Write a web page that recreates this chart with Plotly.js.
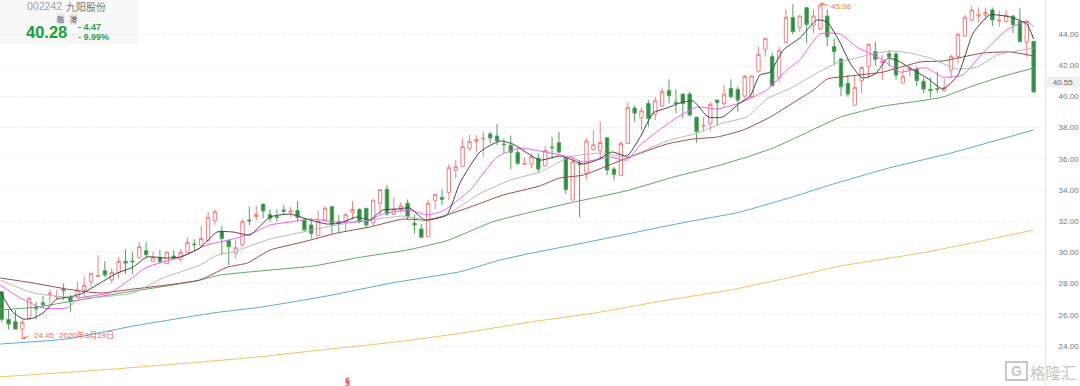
<!DOCTYPE html>
<html><head><meta charset="utf-8">
<script src="https://cdn.plot.ly/plotly-3.0.1.min.js"></script>
<style>html,body{margin:0;padding:0;background:#fff}#c{width:1080px;height:386px}</style>
</head><body><div id="c"></div>
<script>
const opens=[27.48,25.71,25.56,25.09,25.77,26.50,26.78,27.33,27.14,27.63,27.10,27.16,27.59,28.13,28.45,28.83,28.23,28.72,29.43,29.45,29.66,30.11,29.41,29.68,29.30,29.77,29.56,30.01,30.54,30.45,30.75,32.03,31.35,30.75,29.94,30.48,32.08,32.29,33.10,
32.44,32.29,32.72,32.59,32.68,32.08,31.76,31.08,32.08,32.93,31.97,31.97,32.55,32.76,32.83,31.91,33.15,34.05,32.44,32.76,33.15,31.87,31.50,31.01,33.34,33.53,33.85,35.28,35.50,36.67,37.12,37.27,37.59,37.46,36.95,36.87,36.40,35.65,35.65,
36.03,35.54,36.75,37.03,36.09,33.36,35.71,35.07,36.60,36.52,37.35,35.34,34.94,36.99,39.25,38.63,39.55,38.85,39.38,40.37,39.62,40.15,40.15,38.66,38.10,38.27,39.77,39.55,40.51,40.45,40.02,
39.98,41.63,43.02,42.55,41.20,43.47,45.05,44.43,45.69,44.56,44.32,45.15,43.19,42.40,40.84,39.43,41.01,41.91,42.87,42.16,42.74,42.72,40.86,41.71,41.76,40.97,40.45,40.50,40.37,41.69,42.55,43.87,44.90,45.15,45.22,45.54,44.83,44.79,45.15,44.79,43.47,43.53];
const highs=[27.48,26.31,26.31,25.67,27.10,26.84,27.21,27.63,27.59,28.02,27.27,28.13,28.45,28.66,29.83,29.45,28.98,29.73,30.20,30.05,30.69,30.69,30.05,30.15,30.05,30.15,30.20,30.97,30.84,31.69,32.61,32.76,31.69,30.84,30.80,32.12,32.93,32.98,33.10,
32.76,32.76,33.04,32.93,33.30,32.19,32.19,32.68,32.98,32.98,32.40,32.51,33.30,32.83,32.83,33.36,34.05,34.32,33.53,33.21,33.40,32.40,31.82,33.36,33.72,34.05,35.67,35.93,37.31,37.53,37.53,37.74,37.74,38.23,37.31,37.49,36.67,36.10,36.35,
36.35,36.82,37.42,37.72,36.13,36.13,35.92,37.31,37.84,38.38,37.35,35.49,37.16,39.60,39.45,39.30,39.77,39.98,40.51,41.09,40.45,40.19,40.30,38.70,38.70,39.66,39.77,40.73,41.09,40.62,41.37,
41.31,43.19,43.72,42.80,43.19,45.58,45.92,45.22,45.71,45.58,45.98,45.58,43.72,42.44,41.37,41.37,41.91,43.40,43.51,42.65,42.97,42.87,41.80,41.95,41.91,41.22,41.22,41.59,41.16,42.72,44.09,45.22,45.80,45.71,45.71,45.71,45.50,45.54,45.22,45.65,44.90,43.53];
const lows=[25.50,25.07,25.07,24.45,25.67,25.71,26.42,26.78,26.95,26.95,26.20,27.12,27.16,27.80,28.40,28.40,28.02,28.34,28.62,28.62,29.62,29.62,29.41,29.30,29.30,29.51,29.41,30.01,30.15,30.37,30.69,31.76,29.83,29.19,29.62,30.37,31.76,32.08,32.18,
31.97,31.97,32.40,32.29,31.97,31.33,30.90,31.05,31.97,31.22,31.22,31.40,32.08,31.87,31.55,31.69,32.40,32.34,32.40,32.51,32.08,31.22,30.90,31.01,32.76,33.04,33.36,34.75,35.50,36.50,36.46,36.10,36.99,36.89,36.35,35.33,35.60,35.60,35.39,
35.07,35.49,36.03,36.35,33.74,33.36,32.25,34.68,36.52,35.92,34.96,34.60,34.94,36.95,38.38,37.84,38.06,38.49,39.34,39.55,38.91,38.59,38.70,37.03,37.74,37.74,38.16,39.34,39.87,39.02,39.87,
39.88,41.52,42.55,40.62,40.95,43.40,43.98,44.15,43.40,44.04,44.26,43.23,42.01,40.03,39.98,39.43,40.20,41.16,41.97,41.05,41.97,41.09,40.84,41.27,40.67,40.20,39.88,40.20,40.30,41.16,42.12,43.83,44.79,44.73,44.90,44.51,44.47,44.73,44.04,43.51,42.55,40.28];
const closes=[25.71,25.41,25.09,25.52,27.06,26.39,26.65,27.38,27.18,27.55,26.86,27.59,27.89,28.66,28.51,28.55,28.72,29.43,29.32,29.41,30.37,29.86,29.66,29.41,30.03,29.64,30.01,30.65,30.50,30.90,32.25,32.61,30.90,30.37,30.30,31.97,32.03,32.44,32.65,
32.19,32.25,32.64,32.66,32.25,31.44,31.22,32.01,32.83,31.82,31.87,32.42,32.76,31.97,31.76,33.36,34.02,32.46,32.78,32.98,32.29,31.76,30.97,33.15,33.72,33.40,35.43,35.50,36.78,37.10,37.25,37.31,37.34,37.16,36.91,36.42,35.71,35.69,36.14,
35.34,36.54,36.71,36.43,34.04,35.81,35.64,37.14,36.90,37.05,35.28,35.00,36.99,39.28,38.93,39.08,38.59,39.72,40.30,40.05,39.55,39.55,38.81,37.74,38.14,39.49,39.60,40.15,39.98,39.77,41.28,
41.31,42.70,43.72,40.69,42.93,45.07,44.15,45.15,44.62,45.15,45.86,43.83,42.87,40.62,40.15,40.58,41.86,43.34,42.38,42.23,42.55,41.37,41.29,41.80,41.01,40.47,40.37,40.45,40.56,42.55,43.98,45.07,45.54,45.26,45.37,44.90,44.90,45.22,44.60,43.51,44.79,40.28];

const ma250x=[-0.2,14.3,28.8,37.5,47.3,56.9,66.6,76.8,86.5,96.1,105.9,114.6,121.9,133.9,141.2,150];
const ma250y=[22.03,22.46,22.97,23.31,23.79,24.24,24.81,25.54,26.14,26.90,27.59,28.40,29.13,29.98,30.62,31.44];
const ma120x=[-0.2,9.5,19.1,30.7,37.5,47.3,56.9,66.6,72.4,76.8,83,90.3,96.1,101.1,106.9,114.6,120.4,126.2,129.1,137.8,150];
const ma120y=[24.13,24.45,25.28,26.12,26.48,27.21,28.06,28.76,29.51,29.94,30.47,31.12,31.65,32.08,32.54,33.51,34.32,35.07,35.43,36.35,37.85];
const ma60x=[-0.2,5.1,9.5,13.9,18.2,24,28.8,31.7,37.5,45.3,52.1,58.9,64.7,71.4,78.2,83,90.9,97.6,103.4,108.8,112.1,117.5,121.9,128.1,133.5,136.8,140.7,145.1,150];
const ma60y=[26.31,26.50,26.82,27.14,27.46,27.85,28.23,28.55,28.81,29.13,29.69,30.15,30.75,31.97,32.72,33.21,33.96,34.83,35.47,36.18,36.69,37.78,38.68,39.38,39.71,39.96,40.60,41.24,41.82];
const ma30x=[-0.2,4.6,9.5,14.3,19.1,24,28.8,32.8,35.7,39,43.8,48.7,53.5,58.3,61.8,64.7,68.1,72.9,78.2,81.1,84.5,90.9,96.7,100.5,104,107.8,111.7,115,118,120,123.3,128.1,133.5,136.8,142.6,146.6,150];
const ma30y=[28.36,28.04,27.65,27.40,27.65,27.91,28.23,29.06,29.32,30.15,30.67,31.24,31.63,32.14,32.08,32.40,32.91,33.68,34.26,34.77,34.96,36.05,36.95,37.27,37.40,37.85,38.68,39.58,40.41,41.12,41.31,41.56,42.21,42.27,42.78,42.85,42.59];
const ma20x=[-0.2,4.6,9.5,14.3,19.1,23.4,28.8,31.3,33.6,39,43.8,48.7,53.5,58.3,61.8,64.7,69.1,73.9,78.2,82.6,87,90.9,96.7,101.1,104.8,108.3,111.2,115,118.5,121.4,124.8,129.1,132,134.9,138.9,141.8,144.7,150];
const ma20y=[28.23,27.40,27.14,27.14,27.40,28.36,29.19,29.83,30.03,30.86,31.31,31.76,32.08,32.33,32.08,32.40,33.68,34.64,35.15,36.12,36.37,36.12,37.14,37.65,38.29,38.68,39.83,40.60,41.50,42.14,42.53,42.91,42.78,42.46,41.76,41.89,42.65,43.10];
const ma10x=[-0.2,2.7,6,9.5,11.4,15.7,19.1,21.1,26,29.8,33.6,36.5,39,41.9,44.8,48.7,53.1,55.4,59.3,61.8,64.1,68.1,72,75.3,78.2,82.6,84.5,88.4,90.9,92.8,97.6,101.1,104,107.3,111.2,114.1,116,118.9,121.9,124.3,128.1,130.6,133.5,134.5,136.8,139.7,142.6,146.1,149,150];
const ma10y=[27.91,27.08,26.44,26.44,27.08,27.40,28.42,29.06,29.71,30.47,30.86,31.24,31.76,31.95,32.14,31.95,32.01,32.46,32.72,32.40,32.65,34.00,36.12,36.69,36.50,36.12,35.80,36.12,35.92,36.88,38.49,39.32,39.19,39.58,40.41,41.69,42.33,44.00,44.00,43.17,42.33,41.56,41.82,41.82,41.24,41.37,42.78,44.26,44.83,44.45];
const ma5x=[-0.2,1.6,3.1,4.6,6,8,9.9,11.8,14.3,16.8,19.1,21.1,24,26,28.8,31.3,33.6,36.1,39,41.9,44.8,47.3,49.2,51.6,53.5,55.4,57.5,59.3,61.5,64.7,66.6,69.5,72.4,74.3,78.2,81.1,83,84.5,86.5,88.7,90.9,92.8,94.7,96.7,98.6,100.5,102.7,104.8,107.3,108.8,110.2,111.7,113.6,116,118.5,120,121.9,123.3,125.1,127,128.8,130.6,132,134.5,136.8,139,141.2,143.6,146.6,149,150];
const ma5y=[27.46,26.18,25.73,25.79,26.12,27.01,27.14,27.40,28.04,28.68,29.06,29.71,29.64,29.71,30.28,31.31,31.31,31.12,32.27,32.46,32.08,31.82,31.88,32.27,32.08,32.72,32.78,32.85,32.08,32.40,34.45,36.44,37.14,36.95,35.92,36.18,35.92,35.67,35.92,36.44,36.18,37.40,38.94,39.26,39.58,39.71,38.68,38.68,39.58,40.03,41.37,41.56,42.97,43.74,44.90,44.77,43.42,42.14,41.18,41.44,42.46,42.21,41.82,41.18,40.47,41.37,44.06,45.22,45.09,44.64,43.68];
const yTicks=[24,26,28,30,32,34,36,38,40,42,44];

const line=(x,y,color,smooth)=>({type:'scatter',mode:'lines',x,y,hoverinfo:'skip',showlegend:false,
  line:{color,width:1,shape:'spline',smoothing:smooth}});
const traces=[
 {type:'candlestick',x:closes.map((_,i)=>i),open:opens,high:highs,low:lows,close:closes,showlegend:false,hoverinfo:'skip',whiskerwidth:0,
  increasing:{line:{color:'#ee8080',width:1},fillcolor:'#ffffff'},
  decreasing:{line:{color:'#4fa35c',width:1},fillcolor:'#2e8b3f'}},
 line(ma250x,ma250y,'#f8c05a',0.3),
 line(ma120x,ma120y,'#5aa6e2',0.3),
 line(ma60x,ma60y,'#5aa660',0.4),
 line(ma30x,ma30y,'#a14a4a',0.5),
 line(ma20x,ma20y,'#b8b8b8',0.5),
 line(ma10x,ma10y,'#f25cf2',0.5),
 line(ma5x,ma5y,'#444444',0.5)
];
const plotW=1045;
const P=(x,y)=>({x:x/plotW,y:1-y/386,xref:'paper',yref:'paper'});
const cjk='"Noto Sans CJK SC",sans-serif';
const T=(x,y,text,size,color,anchor,extra)=>Object.assign(P(x,y),{text,showarrow:false,xanchor:anchor||'left',yanchor:'middle',
  font:{size,color,family:'"Liberation Sans","Noto Sans CJK SC",sans-serif'},borderpad:0},extra||{});
const annotations=[
 T(26,6.5,'002242',10.5,'#a0a0a0'),
 T(65,6.5,'九阳股份',10,'#777777',null,{font:{size:10,color:'#777777',family:cjk}}),
 T(56,19,'融',7,'#555555',null,{bgcolor:'#e4e4e4',font:{size:7,color:'#555555',family:cjk}}),
 T(69,19,'港',7,'#555555',null,{bgcolor:'#e4e4e4',font:{size:7,color:'#555555',family:cjk}}),
 T(25,32.5,'<b>40.28</b>',16.5,'#14a33c'),
 T(77,27,'<b>- 4.47</b>',9,'#2aa14a'),
 T(77,37,'<b>- 9.99%</b>',9,'#2aa14a'),
 T(33,335,'24.45',8,'#ef6f4a'),
 T(58,335,'2020年3月19日',8,'#ef5a5a'),
 T(830,7,'45.98',8,'#ea7a35'),
 T(1046,82,'40.55',8,'#666666',null,{bgcolor:'#f0f0f0',width:32,height:10,align:'center'}),
 T(347,381,'<b>§</b>',9,'#e03030','center'),
 T(1029,371.5,'格隆汇',15.5,'#c6c6c6',null,{font:{size:15.5,color:'#c6c6c6',family:cjk}}),
 T(1016,371,'<b>G</b>',14,'#c6c6c6','center'),
 {x:3,y:24.45,xref:'x',yref:'y',ax:8,ay:-4,text:'',showarrow:true,arrowhead:2,arrowsize:0.6,arrowwidth:1,arrowcolor:'#ef6f4a'},
 {x:119,y:45.98,xref:'x',yref:'y',ax:9,ay:3,text:'',showarrow:true,arrowhead:2,arrowsize:0.6,arrowwidth:1,arrowcolor:'#ea7a35'}
];
const layout={width:1080,height:386,margin:{l:0,r:35,t:0,b:0,pad:0},paper_bgcolor:'#fff',plot_bgcolor:'#fff',showlegend:false,
 xaxis:{type:'linear',range:[-0.247,151.65],visible:false,rangeslider:{visible:false},fixedrange:true},
 yaxis:{side:'right',range:[21.44,46.18],tickmode:'array',tickvals:yTicks,tickformat:'.2f',ticks:'',ticklabelstandoff:11,
  tickfont:{size:8,color:'#777777',family:'"Liberation Sans",sans-serif'},showgrid:true,griddash:'1px,2px',gridcolor:'#e2e2e2',gridwidth:1,
  zeroline:false,showline:true,linecolor:'#e6e6e6',linewidth:1,fixedrange:true},
 shapes:[
  {type:'rect',xref:'paper',yref:'paper',x0:0,x1:138/plotW,y0:1-44/386,y1:1,fillcolor:'#f8f8f8',line:{width:0},layer:'below'},
  {type:'rect',xref:'paper',yref:'paper',x0:1006/plotW,x1:1027/plotW,y0:1-380/386,y1:1-362/386,line:{color:'#c6c6c6',width:2}}
 ],
 annotations};
Plotly.newPlot('c',traces,layout,{displayModeBar:false,staticPlot:true});
</script></body></html>
